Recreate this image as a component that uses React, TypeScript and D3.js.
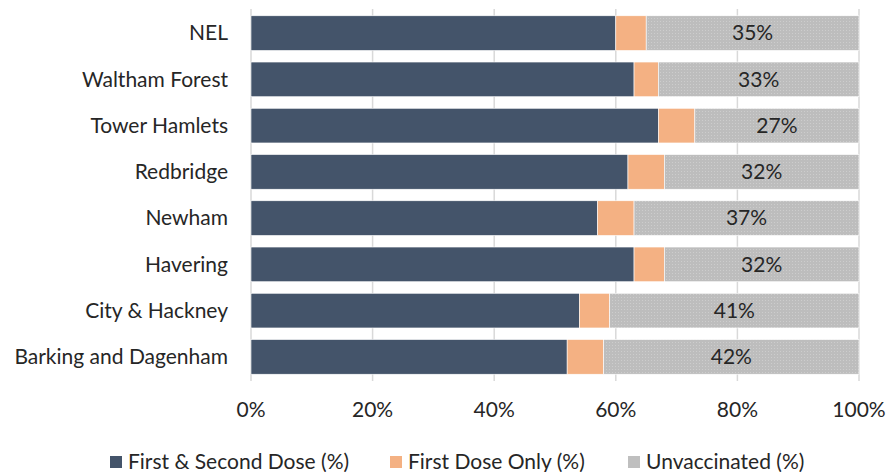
import React, { useEffect, useRef } from "react";
import * as d3 from "d3";

const categories = ["NEL", "Waltham Forest", "Tower Hamlets", "Redbridge", "Newham", "Havering", "City & Hackney", "Barking and Dagenham"];
const bothDoses = [60, 63, 67, 62, 57, 63, 54, 52];
const firstOnly = [5, 4, 6, 6, 6, 5, 5, 6];
const unvaccinated = [35, 33, 27, 32, 37, 32, 41, 42];
const seriesNames = ["First & Second Dose (%)", "First Dose Only (%)", "Unvaccinated (%)"];
const xTicks = [0, 20, 40, 60, 80, 100];

const W = 887, H = 472;
const FONT = "Lato, 'Open Sans', sans-serif";
const FS = 21;
const colors = ["#44546A", "#F4B183", "url(#dots)"];
const legendColors = ["#44546A", "#F4B183", "#BFBFBF"];

export default function App() {
  const ref = useRef<SVGSVGElement>(null);
  useEffect(() => {
    const svg = d3.select(ref.current);
    svg.selectAll("*").remove();
    const defs = svg.append("defs");
    const pat = defs.append("pattern").attr("id", "dots").attr("patternUnits", "userSpaceOnUse").attr("width", 3).attr("height", 3);
    pat.append("rect").attr("width", 3).attr("height", 3).attr("fill", "#BDBDBD");
    pat.append("rect").attr("width", 1).attr("height", 1).attr("fill", "#CDCDCD");

    const x = d3.scaleLinear().domain([0, 100]).range([251, 859]);
    const y = d3.scaleBand<string>().domain(categories).range([10, 380]).paddingInner(0.25).paddingOuter(0.125);

    svg.append("g").selectAll("line").data(xTicks).join("line")
      .attr("x1", (d) => x(d)).attr("x2", (d) => x(d))
      .attr("y1", 9).attr("y2", 381)
      .attr("stroke", "#D9D9D9").attr("stroke-width", 1.5);

    const rows = categories.map((c, i) => ({ c, vals: [bothDoses[i], firstOnly[i], unvaccinated[i]] }));
    const stack = d3.stack<any, number>().keys([0, 1, 2]).value((d: any, k: number) => d.vals[k]);
    const series = stack(rows as any);

    series.forEach((s, si) => {
      svg.append("g").selectAll("rect").data(s).join("rect")
        .attr("x", (d) => x(d[0]))
        .attr("width", (d) => x(d[1]) - x(d[0]))
        .attr("y", (d: any) => y(d.data.c)!)
        .attr("height", y.bandwidth())
        .attr("fill", colors[si])
        .attr("stroke", "#FFFFFF").attr("stroke-width", 0.6);
    });

    svg.append("g").selectAll("text").data(series[2]).join("text")
      .attr("x", (d) => (x(d[0]) + x(d[1])) / 2)
      .attr("y", (d: any) => y(d.data.c)! + y.bandwidth() / 2)
      .attr("dy", "0.35em").attr("text-anchor", "middle")
      .attr("font-family", FONT).attr("font-size", FS).attr("fill", "#262626")
      .text((d) => `${d[1] - d[0]}%`);

    svg.append("g").selectAll("text").data(categories).join("text")
      .attr("x", 228).attr("y", (d) => y(d)! + y.bandwidth() / 2)
      .attr("dy", "0.35em").attr("text-anchor", "end")
      .attr("font-family", FONT).attr("font-size", FS).attr("fill", "#262626")
      .text((d) => d);

    svg.append("g").selectAll("text").data(xTicks).join("text")
      .attr("x", (d) => x(d)).attr("y", 410).attr("dy", "0.35em").attr("text-anchor", "middle")
      .attr("font-family", FONT).attr("font-size", FS).attr("fill", "#262626")
      .text((d) => `${d}%`);

    const legendX = [110, 390, 628];
    const lg = svg.append("g").selectAll("g").data(seriesNames).join("g")
      .attr("transform", (_, i) => `translate(${legendX[i]},462)`);
    lg.append("rect").attr("x", 0).attr("y", -6).attr("width", 12).attr("height", 12)
      .attr("fill", (_, i) => legendColors[i]);
    lg.append("text").attr("x", 18).attr("y", 0).attr("dy", "0.35em")
      .attr("font-family", FONT).attr("font-size", FS).attr("fill", "#262626")
      .text((d) => d);
  }, []);
  return (
    <svg ref={ref} width={W} height={H} style={{ position: "absolute", left: 0, top: 0, background: "#fff" }} />
  );
}
